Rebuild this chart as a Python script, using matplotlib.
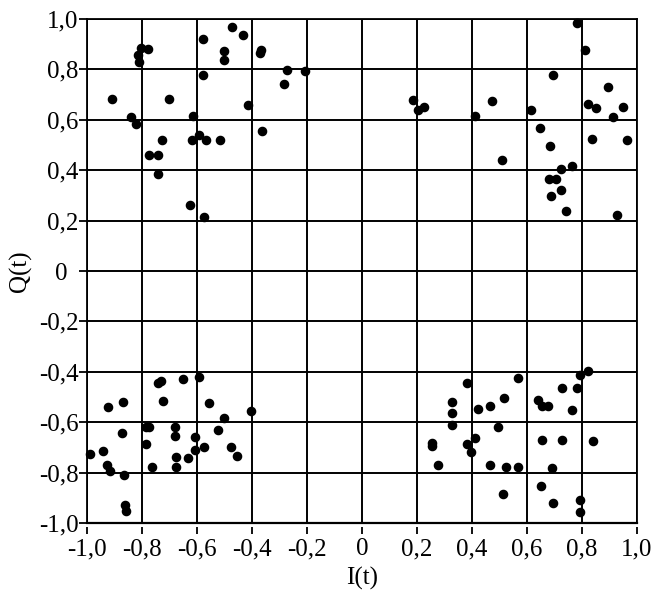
import matplotlib
matplotlib.use("Agg")
import matplotlib.pyplot as plt
import matplotlib.transforms as mtransforms
import numpy as np

plt.rcParams['font.family'] = ['Liberation Serif', 'DejaVu Serif']

# Data points (I, Q) per quadrant
q2_i = [-0.473, -0.433, -0.579, -0.804, -0.780, -0.813, -0.810, -0.503, -0.503, -0.366,
        -0.371, -0.271, -0.207, -0.285, -0.579, -0.908, -0.701, -0.841, -0.821, -0.614,
        -0.415, -0.362, -0.729, -0.618, -0.594, -0.567, -0.516, -0.773, -0.742, -0.742,
        -0.625, -0.575]
q2_q = [0.969, 0.937, 0.922, 0.885, 0.881, 0.859, 0.829, 0.872, 0.836, 0.878,
        0.865, 0.796, 0.794, 0.743, 0.778, 0.683, 0.683, 0.610, 0.584, 0.617,
        0.657, 0.557, 0.520, 0.520, 0.540, 0.520, 0.520, 0.459, 0.459, 0.384,
        0.261, 0.214]

q1_i = [0.780, 0.810, 0.695, 0.893, 0.186, 0.202, 0.227, 0.474, 0.412, 0.616,
        0.821, 0.852, 0.950, 0.911, 0.647, 0.835, 0.962, 0.682, 0.509, 0.762,
        0.725, 0.680, 0.706, 0.725, 0.689, 0.742, 0.926]
q1_q = [0.985, 0.876, 0.778, 0.730, 0.678, 0.637, 0.651, 0.674, 0.614, 0.637,
        0.661, 0.645, 0.649, 0.610, 0.566, 0.525, 0.519, 0.495, 0.439, 0.418,
        0.404, 0.365, 0.365, 0.320, 0.296, 0.238, 0.221]

q3_i = [-0.743, -0.731, -0.650, -0.592, -0.922, -0.869, -0.724, -0.557, -0.403, -0.501,
        -0.787, -0.776, -0.679, -0.872, -0.524, -0.679, -0.606, -0.787, -0.573, -0.476,
        -0.607, -0.990, -0.943, -0.454, -0.676, -0.632, -0.929, -0.916, -0.764, -0.676,
        -0.866, -0.861, -0.857]
q3_q = [-0.445, -0.436, -0.428, -0.419, -0.539, -0.520, -0.517, -0.523, -0.556, -0.584,
        -0.621, -0.621, -0.621, -0.642, -0.631, -0.653, -0.659, -0.687, -0.698, -0.698,
        -0.712, -0.726, -0.715, -0.735, -0.738, -0.741, -0.768, -0.795, -0.778, -0.778,
        -0.811, -0.929, -0.953]

q4_i = [0.820, 0.792, 0.567, 0.382, 0.727, 0.780, 0.326, 0.517, 0.639, 0.656,
        0.675, 0.420, 0.466, 0.762, 0.326, 0.326, 0.495, 0.412, 0.653, 0.729,
        0.841, 0.254, 0.254, 0.382, 0.395, 0.277, 0.467, 0.523, 0.566, 0.692,
        0.651, 0.513, 0.695, 0.792, 0.792]
q4_q = [-0.398, -0.411, -0.423, -0.446, -0.463, -0.463, -0.520, -0.505, -0.513, -0.536,
        -0.537, -0.547, -0.537, -0.553, -0.565, -0.610, -0.618, -0.663, -0.669, -0.669,
        -0.674, -0.683, -0.695, -0.687, -0.718, -0.768, -0.771, -0.778, -0.778, -0.783,
        -0.852, -0.884, -0.921, -0.909, -0.955]

ticks = [-1.0, -0.8, -0.6, -0.4, -0.2, 0.0, 0.2, 0.4, 0.6, 0.8, 1.0]
tick_labels = ["-1,0", "-0,8", "-0,6", "-0,4", "-0,2", "0", "0,2", "0,4", "0,6", "0,8", "1,0"]

W, H = 659, 592
fig = plt.figure(figsize=(W / 100, H / 100), dpi=100)
left, right, top, bottom = 87, 637, 19, 523
ax = fig.add_axes([left / W, (H - bottom) / H, (right - left) / W, (bottom - top) / H])

I = q1_i + q2_i + q3_i + q4_i
Q = q1_q + q2_q + q3_q + q4_q
ax.plot(I, Q, 'o', color='black', markersize=5.9, zorder=3, clip_on=False)

ax.set_xlim(-1, 1)
ax.set_ylim(-1, 1)
ax.set_xticks(ticks)
ax.set_xticklabels(tick_labels)
ax.set_yticks(ticks)
ax.set_yticklabels(tick_labels)
ax.grid(True, color='black', linewidth=1.4)
ax.set_axisbelow(True)
for s in ax.spines.values():
    s.set_linewidth(1.3)

# x-axis ticks sit slightly below the plot frame
ax.spines['bottom'].set_position(('outward', 3))
ax.spines['bottom'].set_color('none')
ax.axhline(-1, color='black', linewidth=1.6, clip_on=False, zorder=2)

ax.tick_params(axis='both', direction='out', width=1.3, labelsize=18, color='black')
ax.tick_params(axis='x', length=5, pad=3)
ax.tick_params(axis='y', length=6, pad=0)
ax.set_xlabel("I(t)", fontsize=18, labelpad=5)
ax.set_ylabel("Q(t)", fontsize=18, labelpad=5)

# the lone "0" label on the y axis is centred under the others in the reference
zero_lbl = ax.yaxis.get_major_ticks()[5].label1
zero_lbl.set_transform(zero_lbl.get_transform() +
                       mtransforms.ScaledTranslation(-11 / 100, 0, fig.dpi_scale_trans))

fig.savefig("out.png", dpi=100)
